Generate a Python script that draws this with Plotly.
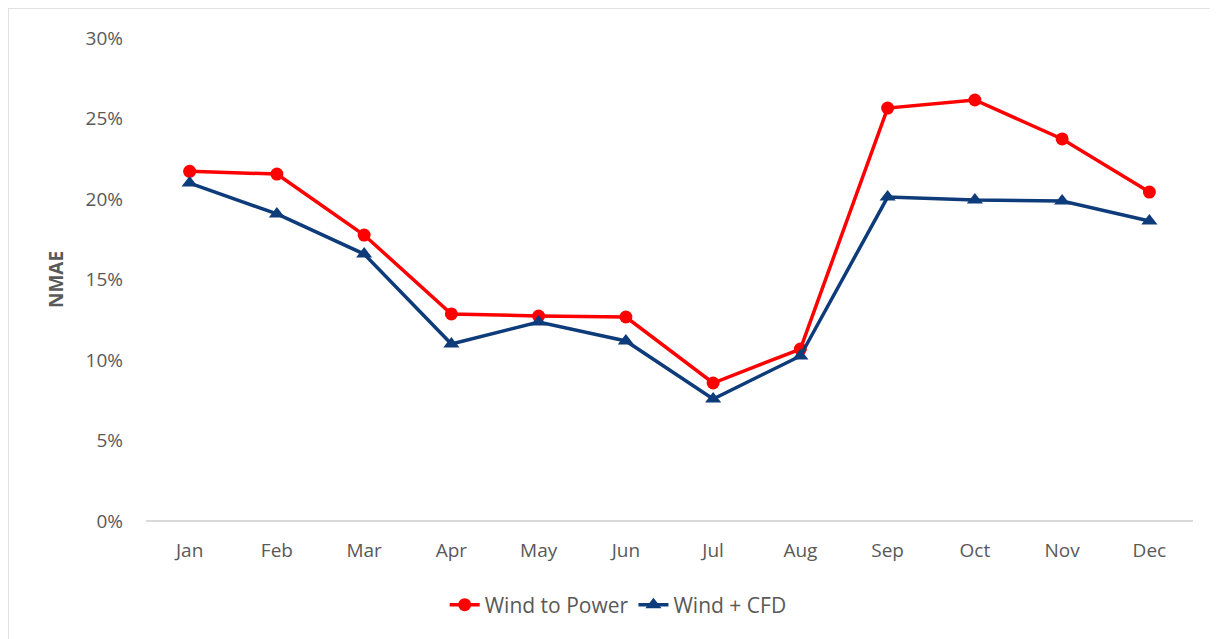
import plotly.graph_objects as go

months = ["Jan", "Feb", "Mar", "Apr", "May", "Jun", "Jul", "Aug", "Sep", "Oct", "Nov", "Dec"]
wind_to_power = [0.2172, 0.2155, 0.1776, 0.1286, 0.1273, 0.1267, 0.0857, 0.1068, 0.2565, 0.2615, 0.2373, 0.2043]
wind_cfd = [0.2099, 0.1907, 0.1658, 0.1099, 0.1236, 0.1118, 0.0758, 0.1025, 0.2012, 0.1994, 0.1988, 0.1863]
y_ticks = [0, 0.05, 0.10, 0.15, 0.20, 0.25, 0.30]

fig = go.Figure()
fig.add_trace(go.Scatter(
    x=months, y=wind_to_power, name="Wind to Power", mode="lines+markers",
    line=dict(color="#FF0000", width=3.5),
    marker=dict(symbol="circle", size=13, color="#FF0000"),
))
fig.add_trace(go.Scatter(
    x=months, y=wind_cfd, name="Wind + CFD", mode="lines+markers",
    line=dict(color="#0E3B7A", width=3.5),
    marker=dict(symbol="triangle-up", size=14, color="#0E3B7A"),
))

fig.update_layout(
    width=1210, height=631,
    margin=dict(l=138, r=25, t=30, b=118),
    paper_bgcolor="white", plot_bgcolor="white",
    font=dict(family="Open Sans, Liberation Sans, sans-serif", color="#595959", size=19),
    showlegend=True,
    legend=dict(orientation="h", x=0.451, y=-0.174, xanchor="center", yanchor="middle",
                font=dict(size=21, color="#595959"), traceorder="normal"),
    xaxis=dict(range=[-0.5, 11.5], showgrid=False, zeroline=False, showline=False, ticks="",
               ticklabelstandoff=16,
               tickfont=dict(size=19, color="#595959")),
    yaxis=dict(range=[0, 0.30], tickvals=y_ticks, tickformat=".0%", showgrid=False,
               zeroline=True, zerolinecolor="#D9D9D9", zerolinewidth=1.5,
               showline=False, ticks="", ticklabelstandoff=22,
               tickfont=dict(size=19, color="#595959"),
               title=dict(text="<b>NMAE</b>", font=dict(size=19, color="#595959"), standoff=16)),
    shapes=[
        dict(type="line", xref="paper", yref="paper",
             x0=-0.1318, x1=1.05, y0=1.062, y1=1.062,
             line=dict(color="#D9D9D9", width=1.5), layer="below"),
        dict(type="line", xref="paper", yref="paper",
             x0=-0.1318, x1=-0.1318, y0=-0.3, y1=1.062,
             line=dict(color="#D9D9D9", width=1.5), layer="below"),
    ],
)

fig.write_html("out.html")
